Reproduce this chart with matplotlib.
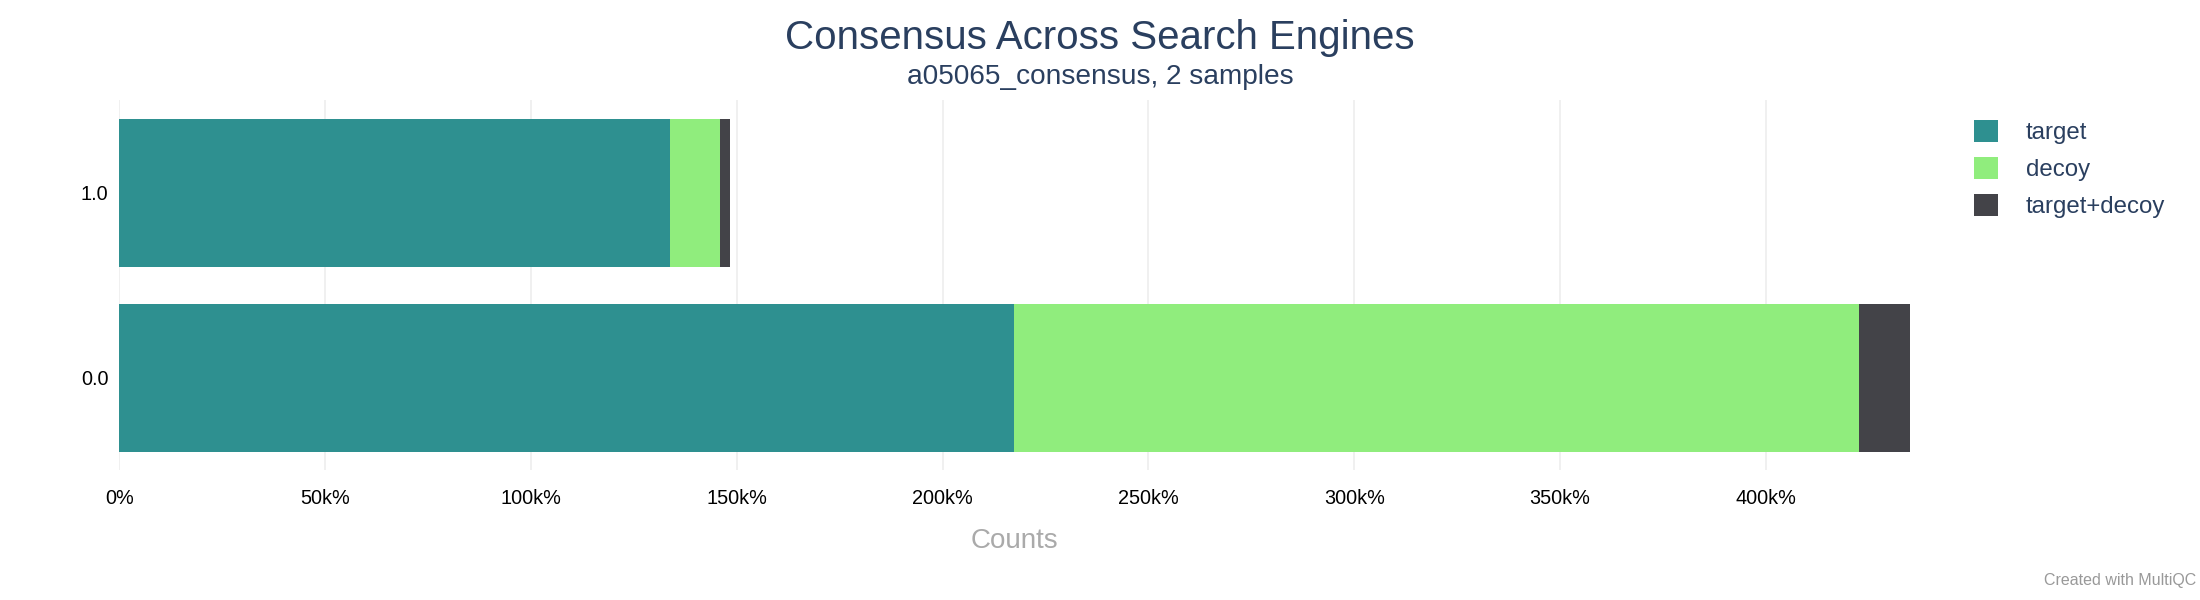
import matplotlib.pyplot as plt
from matplotlib.patches import Patch
from matplotlib.ticker import FuncFormatter

plt.rcParams['font.family'] = ['Liberation Sans', 'DejaVu Sans']

# data
samples = ['0.0', '1.0']
series = ['target', 'decoy', 'target+decoy']
target = [217300, 133800]
decoy = [205400, 12000]
target_decoy = [12300, 2600]
colors = ['#2e9090', '#90ed7d', '#434348']

fig = plt.figure(figsize=(22, 6), dpi=100)
ax = fig.add_axes([119.4 / 2200, 130 / 600, (1910 - 119.4) / 2200, 370 / 600])

ypos = range(len(samples))
left = [0, 0]
for name, vals, col in zip(series, [target, decoy, target_decoy], colors):
    ax.barh(ypos, vals, left=left, height=0.8, color=col, label=name, zorder=2)
    left = [l + v for l, v in zip(left, vals)]

ax.set_ylim(-0.5, 1.5)
ax.set_xlim(0, max(left))
ax.set_yticks(list(ypos))
ax.set_yticklabels(samples)
ax.set_xticks(range(0, 400001, 50000))
ax.xaxis.set_major_formatter(FuncFormatter(lambda v, p: '0%' if v == 0 else f'{int(v / 1000)}k%'))
ax.tick_params(axis='both', length=0, labelsize=14.3, colors='black')
ax.tick_params(axis='x', pad=14)
ax.tick_params(axis='y', pad=8)
ax.grid(axis='x', color='#eeeeee', linewidth=1.2, zorder=0)
for s in ax.spines.values():
    s.set_visible(False)

ax.set_xlabel('Counts', fontsize=20, color='#aaaaaa', labelpad=14)

fig.text(0.5, 1 - 38 / 600, 'Consensus Across Search Engines',
         ha='center', va='center', fontsize=29, color='#2a3f5f')
fig.text(0.5, 1 - 77 / 600, 'a05065_consensus, 2 samples',
         ha='center', va='center', fontsize=20.2, color='#2a3f5f')

handles = [Patch(facecolor=c) for c in colors]
fig.legend(handles, series, loc='upper left', bbox_to_anchor=(1974 / 2200, 1 - 120 / 600),
           frameon=False, fontsize=17.3, handlelength=1.0, handleheight=1.0,
           handletextpad=1.15, labelspacing=0.55, borderpad=0, borderaxespad=0,
           labelcolor='#2a3f5f')

fig.text(2196 / 2200, 1 - 581 / 600, 'Created with MultiQC', ha='right', va='center',
         fontsize=11.5, color='#999999')

fig.savefig('out.png', dpi=100)
